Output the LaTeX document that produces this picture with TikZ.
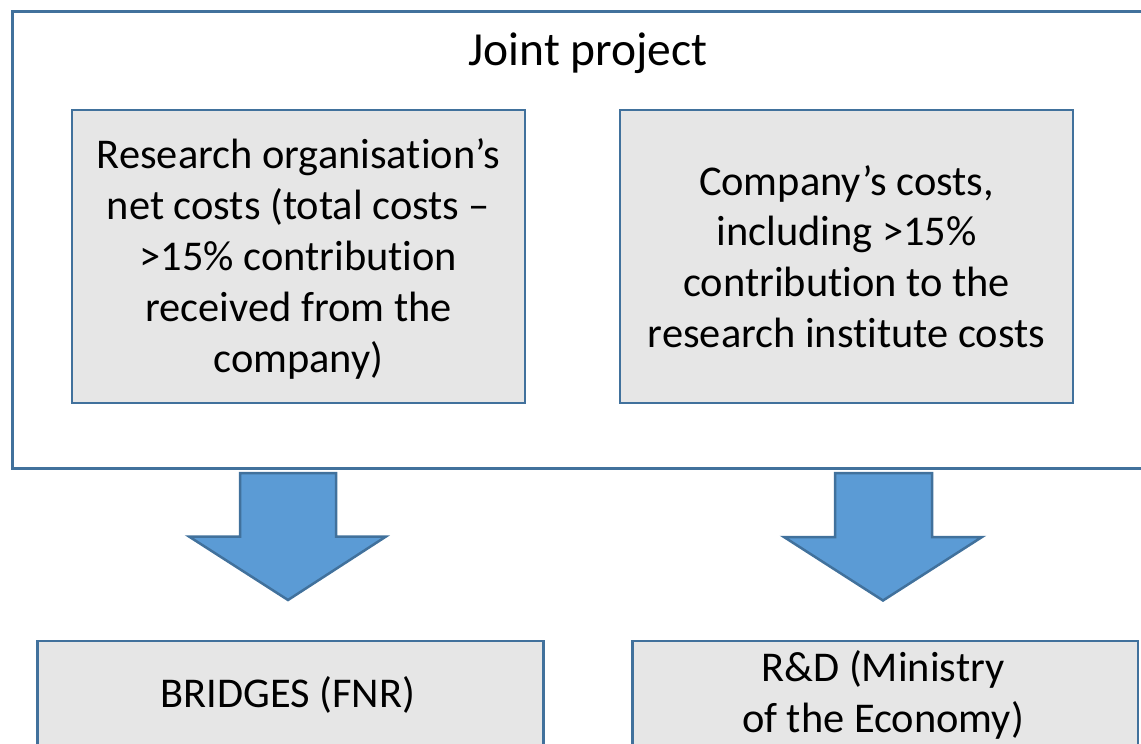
\documentclass[tikz,border=0pt]{standalone}
\usepackage{fontspec}
\setmainfont{Carlito}[RawFeature=-liga]
\definecolor{edge}{HTML}{41719C}
\definecolor{boxfill}{HTML}{E6E6E6}
\definecolor{arrowfill}{HTML}{5B9BD5}
\begin{document}
\begin{tikzpicture}[x=1pt,y=-1pt,
  outerbox/.style={draw=edge,line width=2.5pt,fill=white},
  graybox/.style={draw=edge,line width=2.5pt,fill=boxfill,rectangle,inner sep=0pt},
  label/.style={anchor=base,align=center,inner sep=0pt,
    font=\fontsize{42.4}{50.8}\selectfont},
  blockarrow/.style={draw=edge,line width=2.5pt,fill=arrowfill,line join=miter}]
\useasboundingbox (0,0) rectangle (1141,744);
\clip (0,0) rectangle (1141,744);
% outer box
\draw[outerbox] (12.5,11.5) rectangle (1160,468.5);
\node[label,font=\fontsize{47.5}{56}\selectfont] (title) at (588,65) {Joint project};
% inner boxes
\node[graybox,minimum width=453pt,minimum height=293pt] (ro) at (298.5,256.5) {};
\node[label] (rotext) at (298.5,372) {Research organisation’s\\net costs (total costs –\\>15\% contribution\\received from the\\company)};
\node[graybox,minimum width=453pt,minimum height=293pt] (co) at (846.5,256.5) {};
\node[label] (cotext) at (846.5,347.5) {Company’s costs,\\including >15\%\\contribution to the\\research institute costs};
% arrows
\draw[blockarrow] (240,473) -- (336,473) -- (336,536.5) -- (386,536.5) -- (288,600) -- (189,536.5) -- (240,536.5) -- cycle;
\draw[blockarrow] (835,473) -- (932,473) -- (932,537) -- (982,537) -- (883,600.5) -- (784,537) -- (835,537) -- cycle;
% bottom boxes
\node[graybox,minimum width=506pt,minimum height=140pt,anchor=north west] (bridges) at (36,639.5) {};
\node[label] (brtext) at (288,707) {BRIDGES (FNR)};
\node[graybox,minimum width=505.5pt,minimum height=140pt,anchor=north west] (rd) at (631,639.5) {};
\node[label] (rdtext) at (883,732) {R\&D (Ministry\\of the Economy)};
\end{tikzpicture}
\end{document}
